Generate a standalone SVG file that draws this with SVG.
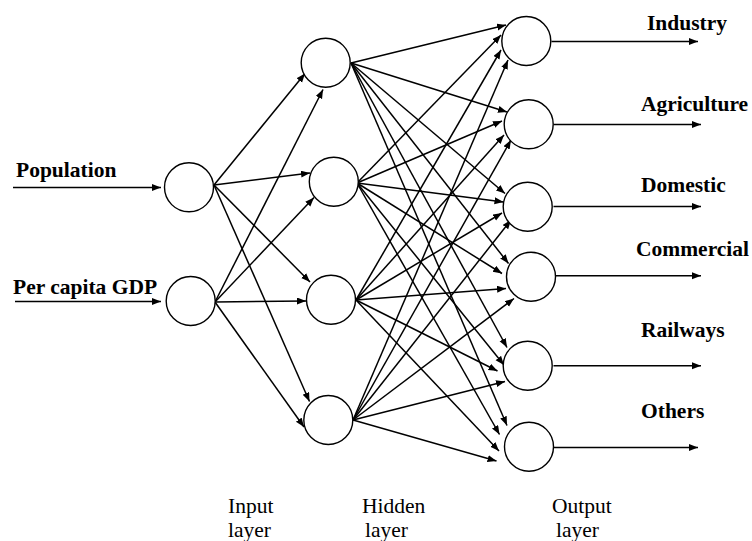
<svg xmlns="http://www.w3.org/2000/svg" width="752" height="541" viewBox="0 0 752 541">
<style>
.n{fill:#fff;stroke:#000;stroke-width:1.4}
.c line{stroke:#000;stroke-width:1.5;marker-end:url(#ah)}
text{font-family:'Liberation Serif',serif;font-size:21.5px;fill:#000}
.lb{font-weight:bold}
</style>
<defs>
<marker id="ah" markerUnits="userSpaceOnUse" markerWidth="10" markerHeight="8" refX="9" refY="3.5" orient="auto">
<path d="M0,0 L9,3.5 L0,7 z" fill="#000"/>
</marker>
</defs>
<rect width="752" height="541" fill="#fff"/>
<g class="c" id="connectors">
<line x1="13" y1="187.5" x2="161" y2="187.5"/>
<line x1="15" y1="301.5" x2="161" y2="301.5"/>
<line x1="214" y1="185" x2="305" y2="73.5"/>
<line x1="214" y1="185" x2="310" y2="173"/>
<line x1="214" y1="185" x2="310" y2="282"/>
<line x1="214" y1="185" x2="309.5" y2="401.5"/>
<line x1="215" y1="302" x2="323" y2="89.5"/>
<line x1="215" y1="302" x2="314" y2="197.5"/>
<line x1="215" y1="302" x2="306" y2="301"/>
<line x1="215" y1="302" x2="304" y2="427"/>
<line x1="351" y1="63" x2="506" y2="25"/>
<line x1="351" y1="63" x2="507" y2="112"/>
<line x1="351" y1="63" x2="505" y2="193.5"/>
<line x1="351" y1="63" x2="508.5" y2="263.5"/>
<line x1="351" y1="63" x2="507" y2="347.5"/>
<line x1="351" y1="63" x2="507" y2="425.5"/>
<line x1="357" y1="183" x2="501" y2="35"/>
<line x1="357" y1="183" x2="502" y2="121"/>
<line x1="357" y1="183" x2="503.5" y2="202"/>
<line x1="357" y1="183" x2="502" y2="273.5"/>
<line x1="357" y1="183" x2="504" y2="365"/>
<line x1="357" y1="183" x2="499.5" y2="434.5"/>
<line x1="356" y1="300" x2="501" y2="50"/>
<line x1="356" y1="300" x2="504" y2="135"/>
<line x1="356" y1="300" x2="502" y2="213"/>
<line x1="356" y1="300" x2="506" y2="288.5"/>
<line x1="356" y1="300" x2="497.5" y2="371"/>
<line x1="356" y1="300" x2="499" y2="451"/>
<line x1="353" y1="420" x2="508" y2="60"/>
<line x1="353" y1="420" x2="511" y2="140"/>
<line x1="353" y1="420" x2="511" y2="220"/>
<line x1="353" y1="420" x2="514" y2="298.5"/>
<line x1="353" y1="420" x2="505" y2="381.5"/>
<line x1="353" y1="420" x2="496.5" y2="461"/>
<line x1="551.5" y1="41.5" x2="698" y2="41.5"/>
<line x1="553.5" y1="124.5" x2="701" y2="124.5"/>
<line x1="553.5" y1="206.5" x2="701" y2="206.5"/>
<line x1="556" y1="275.7" x2="701" y2="275.7"/>
<line x1="553.5" y1="365.7" x2="701" y2="365.7"/>
<line x1="551" y1="447.5" x2="698" y2="447.5"/>
</g>
<g id="in-population"><circle class="n" cx="189" cy="187.3" r="24.5"/><text class="lb" x="16" y="177">Population</text></g>
<g id="in-gdp"><circle class="n" cx="190.7" cy="301" r="24.5"/><text class="lb" x="13" y="294">Per capita GDP</text></g>
<g id="h1"><circle class="n" cx="325.7" cy="62.7" r="24.5"/></g>
<g id="h2"><circle class="n" cx="333.8" cy="181.7" r="24.5"/></g>
<g id="h3"><circle class="n" cx="331" cy="299.7" r="24.5"/></g>
<g id="h4"><circle class="n" cx="328.3" cy="420" r="24.5"/></g>
<g id="out-industry"><circle class="n" cx="526.3" cy="41" r="24.5"/><text class="lb" x="647" y="30">Industry</text></g>
<g id="out-agriculture"><circle class="n" cx="528.7" cy="124.3" r="24.5"/><text class="lb" x="641" y="111">Agriculture</text></g>
<g id="out-domestic"><circle class="n" cx="527.7" cy="206.7" r="24.5"/><text class="lb" x="641" y="191.5">Domestic</text></g>
<g id="out-commercial"><circle class="n" cx="531" cy="276.7" r="24.5"/><text class="lb" x="636" y="256">Commercial</text></g>
<g id="out-railways"><circle class="n" cx="527.7" cy="365.7" r="24.5"/><text class="lb" x="641" y="336.5">Railways</text></g>
<g id="out-others"><circle class="n" cx="529" cy="446.7" r="24.5"/><text class="lb" x="641" y="417.5">Others</text></g>
<g id="layer-labels">
<text x="228" y="513">Input</text>
<text x="228" y="537">layer</text>
<text x="362" y="513">Hidden</text>
<text x="365" y="537">layer</text>
<text x="552" y="513">Output</text>
<text x="556" y="537">layer</text>
</g>
</svg>
